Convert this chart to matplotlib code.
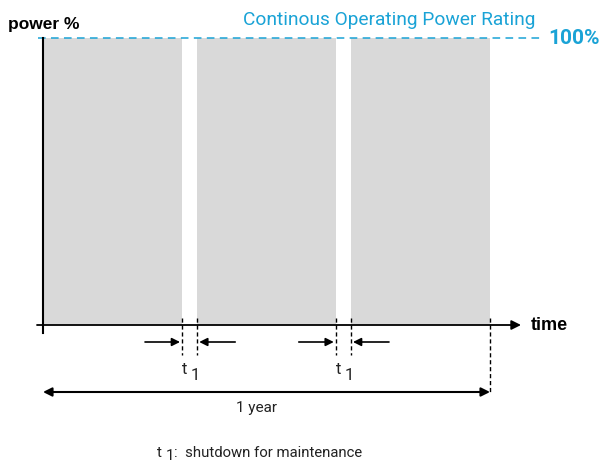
import matplotlib.pyplot as plt

# ---------------- data (time in years, power in %) ----------------
run_start = [0.0, 0.345, 0.689]
run_end = [0.311, 0.655, 1.0]
power_level = 100
rating_label = "Continous Operating Power Rating"
rating_text = "100%"
span_label = "1 year"
note_text = ":  shutdown for maintenance"

cyan = "#1aa3d6"
grey = "#d9d9d9"

# ---------------- figure: 604x462 px ----------------
fig = plt.figure(figsize=(6.04, 4.62), dpi=100)
ax = fig.add_axes([0, 0, 1, 1])
ax.set_xlim(-43 / 447, 561 / 447)
ax.set_ylim(-137 / 2.87, 325 / 2.87)
ax.axis("off")

ux = 1 / 447   # one pixel in x
uy = 1 / 2.87  # one pixel in y

# running periods
for a, b in zip(run_start, run_end):
    ax.fill_between([a, b], 0, power_level, color=grey, lw=0, zorder=1)

# axes lines
ax.plot([0, 0], [-8 * uy, power_level], color="black", lw=1.5, zorder=3)
ax.annotate("", xy=(478 * ux, 0), xytext=(-6 * ux, 0),
            arrowprops=dict(arrowstyle="-|>", color="black", lw=1.3,
                            mutation_scale=14, shrinkA=0, shrinkB=0), zorder=3)
ax.text(488 * ux, 0, "time", fontsize=13, fontweight="bold",
        family="Liberation Sans", va="center", ha="left")
ax.text(-35 * ux, power_level + 14 * uy, "power %", fontsize=12.5,
        fontweight="bold", family="Liberation Sans", va="center", ha="left")

# rating line
ax.plot([-5 * ux, 497 * ux], [power_level, power_level], color=cyan,
        lw=1.1, ls=(0, (5, 3.5)), zorder=2)
ax.text(492 * ux, power_level + 18 * uy, rating_label, color=cyan,
        fontsize=13.8, family="Roboto", ha="right", va="center")
ax.text(505 * ux, power_level - 1 * uy, rating_text, color=cyan, fontsize=15,
        family="Roboto", fontweight="bold", ha="left", va="center")

# shutdown markers
for i in range(len(run_start) - 1):
    a = run_end[i]
    b = run_start[i + 1]
    for x in (a, b):
        ax.plot([x, x], [7 * uy, -30 * uy], color="black", lw=1,
                ls=(0, (3, 2)), zorder=3)
    ax.annotate("", xy=(a - 2 * ux, -17 * uy), xytext=(a - 37 * ux, -17 * uy),
                arrowprops=dict(arrowstyle="-|>", color="black", lw=1.2,
                                mutation_scale=12, shrinkA=0, shrinkB=0))
    ax.annotate("", xy=(b + 2 * ux, -17 * uy), xytext=(b + 38 * ux, -17 * uy),
                arrowprops=dict(arrowstyle="-|>", color="black", lw=1.2,
                                mutation_scale=12, shrinkA=0, shrinkB=0))
    ax.text(a, -44 * uy, "t", fontsize=12, family="Roboto",
            ha="left", va="center", color="#222222")
    ax.text(a + 9 * ux, -50 * uy, "1", fontsize=12, family="Roboto",
            ha="left", va="center", color="#222222")

# one year span
ax.plot([run_end[-1], run_end[-1]], [7 * uy, -67 * uy], color="black",
        lw=1, ls=(0, (3, 2)), zorder=3)
ax.annotate("", xy=(run_start[0], -67 * uy), xytext=(run_end[-1], -67 * uy),
            arrowprops=dict(arrowstyle="<|-|>", color="black", lw=1.5,
                            mutation_scale=13, shrinkA=0, shrinkB=0))
ax.text(214 * ux, -83 * uy, span_label, fontsize=11, family="Roboto",
        ha="center", va="center", color="#222222")

# footnote
ax.text(114 * ux, -128 * uy, "t", fontsize=11, family="Roboto",
        ha="left", va="center", color="#222222")
ax.text(123 * ux, -131 * uy, "1", fontsize=11, family="Roboto",
        ha="left", va="center", color="#222222")
ax.text(131 * ux, -128 * uy, note_text, fontsize=10.7, family="Roboto",
        ha="left", va="center", color="#222222")

fig.savefig("out.png", dpi=100)
